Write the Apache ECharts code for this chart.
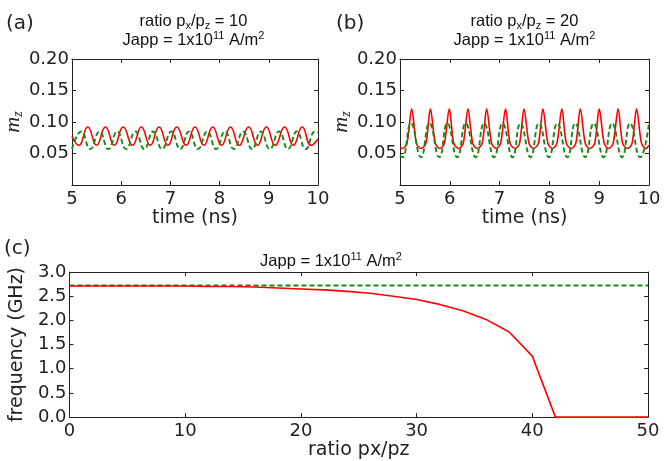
<!DOCTYPE html>
<html><head><meta charset="utf-8">
<script src="https://cdn.jsdelivr.net/npm/echarts@6/dist/echarts.min.js"></script>
<style>html,body{margin:0;padding:0;background:#fff}#c{width:664px;height:461px}</style>
</head><body><div id="c"></div>
<script>
// ---- Panel (a): ratio px/pz = 10 ----
const aRedT = [5.00,5.14,5.32,5.50,5.68,5.86,6.04,6.23,6.41,6.59,6.77,6.95,7.13,7.32,7.50,7.68,7.86,8.04,8.22,8.40,8.59,8.77,8.95,9.13,9.32,9.50,9.68,9.86,10.00];
const aRedV = [0.077,0.063,0.092,0.063,0.092,0.063,0.092,0.063,0.092,0.063,0.092,0.063,0.092,0.063,0.092,0.063,0.092,0.063,0.092,0.063,0.092,0.063,0.092,0.063,0.092,0.063,0.092,0.063,0.073];
const aGreenT = [5.00,5.19,5.37,5.56,5.74,5.92,6.10,6.29,6.47,6.65,6.83,7.02,7.20,7.38,7.56,7.75,7.93,8.11,8.29,8.48,8.66,8.84,9.02,9.21,9.39,9.57,9.75,9.94,10.00];
const aGreenV = [0.057,0.085,0.057,0.085,0.057,0.085,0.057,0.085,0.057,0.085,0.057,0.085,0.057,0.085,0.057,0.085,0.057,0.085,0.057,0.085,0.057,0.085,0.057,0.085,0.057,0.085,0.057,0.085,0.083];
// ---- Panel (b): ratio px/pz = 20 ----
const bRedT = [5.00,5.05,5.14,5.235,5.33,5.42,5.52,5.61,5.71,5.80,5.89,5.99,6.08,6.18,6.27,6.365,6.46,6.55,6.65,6.74,6.84,6.93,7.02,7.12,7.21,7.31,7.40,7.49,7.59,7.68,7.78,7.87,7.97,8.06,8.15,8.25,8.34,8.44,8.53,8.62,8.72,8.81,8.91,9.00,9.10,9.19,9.28,9.38,9.47,9.57,9.66,9.75,9.85,9.94,10.00];
const bRedV = [0.059,0.058,0.066,0.121,0.066,0.058,0.066,0.121,0.066,0.058,0.066,0.121,0.066,0.058,0.066,0.121,0.066,0.058,0.066,0.121,0.066,0.058,0.066,0.121,0.066,0.058,0.066,0.121,0.066,0.058,0.066,0.121,0.066,0.058,0.066,0.121,0.066,0.058,0.066,0.121,0.066,0.058,0.066,0.121,0.066,0.058,0.066,0.121,0.066,0.058,0.066,0.121,0.066,0.058,0.063];
const bGreenT = [5.00,5.05,5.22,5.42,5.59,5.79,5.95,6.15,6.32,6.52,6.69,6.89,7.06,7.26,7.42,7.62,7.79,7.99,8.16,8.36,8.52,8.72,8.89,9.09,9.26,9.46,9.62,9.82,10.00];
const bGreenV = [0.047,0.044,0.098,0.044,0.098,0.044,0.098,0.044,0.098,0.044,0.098,0.044,0.098,0.044,0.098,0.044,0.098,0.044,0.098,0.044,0.098,0.044,0.098,0.044,0.098,0.044,0.098,0.044,0.098];
// ---- Panel (c): frequency vs ratio ----
const cRatio = [0,2,4,6,8,10,12,14,16,18,20,22,24,26,28,30,32,34,36,38,40,42,44,46,48,50];
const cRed   = [2.71,2.71,2.71,2.71,2.71,2.71,2.70,2.70,2.69,2.67,2.65,2.63,2.60,2.56,2.50,2.43,2.33,2.20,2.02,1.76,1.26,0,0,0,0,0];
const cGreen = [2.72,2.72,2.72,2.72,2.72,2.72,2.72,2.72,2.72,2.72,2.72,2.72,2.72,2.72,2.72,2.72,2.72,2.72,2.72,2.72,2.72,2.72,2.72,2.72,2.72,2.72];
const abXTicks = [5,6,7,8,9,10];

const zip = (t, v) => t.map((x, i) => [x, v[i]]);
const AX = '#222';
const DJ = 'DejaVu Sans';
const TF = 'Liberation Sans';
const RED = '#ff0000', GREEN = '#128c12';

const xAxes = [], yAxes = [];
function addAxes(gi, xmin, xmax, xint, ymin, ymax, yint, yfmt, xname, xgap, yname, ygap, ynameStyle) {
  const tick = { show: true, inside: true, length: 4, lineStyle: { color: AX, width: 1 } };
  const line = { show: true, onZero: false, lineStyle: { color: AX, width: 1 } };
  xAxes.push({ type: 'value', gridIndex: gi, position: 'bottom', min: xmin, max: xmax, interval: xint,
    axisLine: line, axisTick: tick, splitLine: { show: false },
    axisLabel: { fontFamily: DJ, fontSize: 18, color: '#222', margin: 5, showMinLabel: true, showMaxLabel: true },
    name: xname, nameLocation: 'middle', nameGap: xgap,
    nameTextStyle: { fontFamily: DJ, fontSize: 19, color: '#222' } });
  xAxes.push({ type: 'value', gridIndex: gi, position: 'top', min: xmin, max: xmax, interval: xint,
    axisLine: line, axisTick: tick, splitLine: { show: false }, axisLabel: { show: false } });
  yAxes.push({ type: 'value', gridIndex: gi, position: 'left', min: ymin, max: ymax, interval: yint,
    axisLine: line, axisTick: tick, splitLine: { show: false },
    axisLabel: { fontFamily: DJ, fontSize: 18, color: '#222', margin: 3, formatter: yfmt, showMinLabel: true, showMaxLabel: true },
    name: yname, nameLocation: 'middle', nameGap: ygap, nameRotate: 90, nameTextStyle: ynameStyle });
  yAxes.push({ type: 'value', gridIndex: gi, position: 'right', min: ymin, max: ymax, interval: yint,
    axisLine: line, axisTick: tick, splitLine: { show: false }, axisLabel: { show: false } });
}
const mzStyle = { color: '#222', fontFamily: 'Liberation Serif', fontStyle: 'italic', fontSize: 22, lineHeight: 24, rich: {
  m: { fontFamily: 'Liberation Serif', fontStyle: 'italic', fontSize: 22, lineHeight: 24, color: '#222' },
  z: { fontFamily: 'Liberation Serif', fontStyle: 'italic', fontSize: 14, lineHeight: 13, verticalAlign: 'bottom', color: '#222' } } };
const fmt2 = v => (v === 0 ? '' : v.toFixed(2));
const fmt1 = v => v.toFixed(1);
addAxes(0, abXTicks[0], abXTicks[abXTicks.length - 1], 1, 0, 0.2, 0.05, fmt2, 'time (ns)', 21, '{m|m}{z|z}', 44, mzStyle);
addAxes(1, abXTicks[0], abXTicks[abXTicks.length - 1], 1, 0, 0.2, 0.05, fmt2, 'time (ns)', 21, '{m|m}{z|z}', 44, mzStyle);
addAxes(2, 0, 50, 10, 0, 3, 0.5, fmt1, 'ratio px/pz', 20, 'frequency (GHz)', 36, { fontFamily: DJ, fontSize: 19, color: '#222' });

const richT = {
  n: { fontFamily: TF, fontSize: 16.5, lineHeight: 20, color: '#111' },
  sb: { fontFamily: TF, fontSize: 11, lineHeight: 12, verticalAlign: 'bottom', color: '#111' },
  sp: { fontFamily: TF, fontSize: 11, lineHeight: 12, verticalAlign: 'top', color: '#111' }
};
function tt(text, cx, top) {
  return { text, left: cx, top, textAlign: 'center', padding: 0,
    textStyle: { fontFamily: TF, fontSize: 16.5, fontWeight: 'normal', color: '#111', rich: richT } };
}
function lab(text, left, top) {
  return { text, left, top, padding: 0, textStyle: { fontFamily: DJ, fontSize: 20, fontWeight: 'normal', color: '#222' } };
}

function line(name, data, xi, yi, color, dashed, smooth) {
  return { type: 'line', name, data, xAxisIndex: xi, yAxisIndex: yi, showSymbol: false, symbol: 'none',
    smooth: smooth, animation: false, clip: true,
    lineStyle: { color, width: dashed ? 1.9 : 1.6, type: dashed ? [5, 3] : 'solid' }, itemStyle: { color } };
}

const chart = echarts.init(document.getElementById('c'), null, { renderer: 'canvas' });
chart.setOption({
  backgroundColor: '#fff',
  animation: false,
  title: [
    lab('(a)', 6, 14), lab('(b)', 336, 14), lab('(c)', 4, 239),
    tt('{n|ratio p}{sb|x}{n|/p}{sb|z}{n| = 10}', 193.5, 11),
    tt('{n|Japp = 1x10}{sp|11}{n| A/m}{sp|2}', 193.5, 30),
    tt('{n|ratio p}{sb|x}{n|/p}{sb|z}{n| = 20}', 524.5, 11),
    tt('{n|Japp = 1x10}{sp|11}{n| A/m}{sp|2}', 524.5, 30),
    tt('{n|Japp = 1x10}{sp|11}{n| A/m}{sp|2}', 331, 251)
  ],
  grid: [
    { left: 69, top: 59, width: 249, height: 126 },
    { left: 400, top: 59, width: 249, height: 126 },
    { left: 68, top: 272, width: 580, height: 151 }
  ],
  xAxis: xAxes,
  yAxis: yAxes,
  series: [
    line('a red', zip(aRedT, aRedV), 0, 0, RED, false, 0.5),
    line('a green', zip(aGreenT, aGreenV), 0, 0, GREEN, true, 0.5),
    line('b red', zip(bRedT, bRedV), 2, 2, RED, false, 0.3),
    line('b green', zip(bGreenT, bGreenV), 2, 2, GREEN, true, 0.5),
    line('c green', zip(cRatio, cGreen), 4, 4, GREEN, true, false),
    line('c red', zip(cRatio, cRed), 4, 4, RED, false, false)
  ]
});
</script></body></html>
